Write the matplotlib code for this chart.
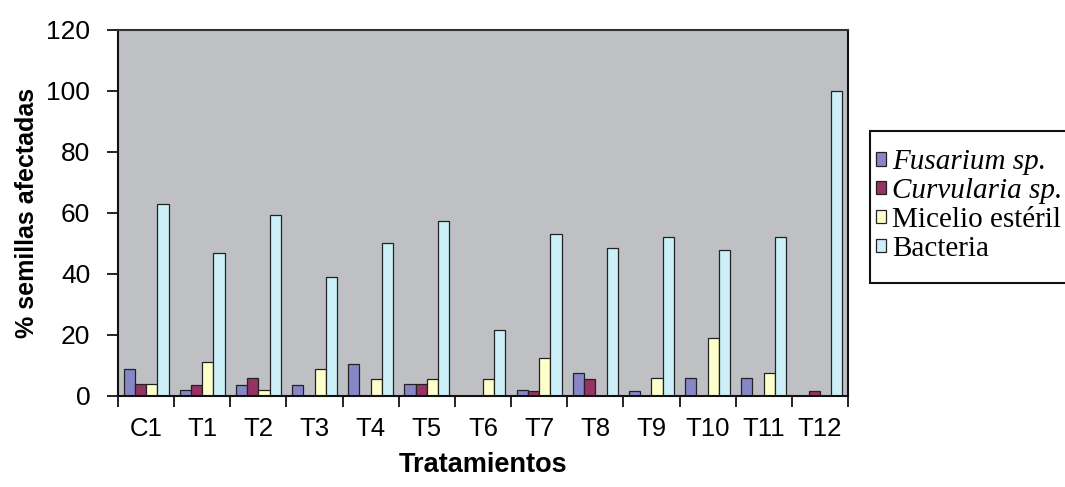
import numpy as np
from matplotlib import pyplot as plt, ticker
from matplotlib.patches import Rectangle

FIG_W = 10.65
FIG_H = 4.87
BAR_W = 0.2

tratamientos = ['C1', 'T1', 'T2', 'T3', 'T4', 'T5', 'T6', 'T7', 'T8', 'T9', 'T10', 'T11', 'T12']
fusarium = [9, 2, 3.5, 3.5, 10.5, 4, 0, 2, 7.5, 1.5, 6, 6, 0]
curvularia = [4, 3.5, 6, 0, 0, 4, 0, 1.5, 5.5, 0, 0, 0, 1.5]
micelio = [4, 11, 2, 9, 5.5, 5.5, 5.5, 12.5, 0, 6, 19, 7.5, 0]
bacteria = [63, 47, 59.5, 39, 50, 57.5, 21.5, 53, 48.5, 52, 48, 52, 100]

series = [
    (fusarium, 'Fusarium sp.', '#8787c8'),
    (curvularia, 'Curvularia sp.', '#963264'),
    (micelio, 'Micelio estéril', '#ffffcc'),
    (bacteria, 'Bacteria', '#ccf0f8'),
]

plt.rcParams['font.family'] = ['Liberation Sans', 'DejaVu Sans']

fig, ax = plt.subplots(figsize=(FIG_W, FIG_H), dpi=100)
plt.subplots_adjust(left=0.1108, right=0.7962, bottom=0.1869, top=0.9384)
ax.set_facecolor('#bfc0c4')

x = np.arange(len(tratamientos))
handles = []
for i, (vals, label, color) in enumerate(series):
    h = ax.bar(x + (i - 1.5) * BAR_W, vals, BAR_W, color=color,
               edgecolor='#222222', linewidth=0.9, label=label)
    handles.append(h)

ax.set_xlim(-0.5, len(tratamientos) - 0.5)
ax.set_ylim(0, 120)
ax.yaxis.set_major_locator(ticker.MultipleLocator(20))
ax.set_xticks(x)
ax.set_xticklabels(tratamientos)
ax.set_xticks(np.arange(-0.5, len(tratamientos)), minor=True)
ax.tick_params(axis='x', which='major', length=0, pad=15, labelsize=18.5)
ax.tick_params(axis='x', which='minor', length=8, width=1.2, direction='out')
ax.tick_params(axis='y', length=8, width=1.2, direction='out', labelsize=19, pad=12)

for side in ['left', 'bottom', 'right']:
    ax.spines[side].set_color('#111111')
    ax.spines[side].set_linewidth(1.5)
ax.spines['top'].set_color('#333333')
ax.spines['top'].set_linewidth(1.5)

ax.set_xlabel('Tratamientos', fontsize=19.5, fontweight='bold', labelpad=8)
ax.set_ylabel('% semillas afectadas', fontsize=18, fontweight='bold', labelpad=5)

# legend box (right part cut off by the figure edge, as in the original)
fig.patches.append(Rectangle((870 / 1065, 1 - 283 / 487), 0.3, 152 / 487,
                             transform=fig.transFigure, facecolor='white',
                             edgecolor='#111111', linewidth=1.5, zorder=0))

legend = fig.legend(handles=handles, loc='center left', bbox_to_anchor=(876 / 1065, 1 - 205.5 / 487),
                    frameon=False, handlelength=0.35, handleheight=0.35,
                    handletextpad=0.2, labelspacing=0.1, borderpad=0, borderaxespad=0,
                    prop={'family': 'Liberation Serif', 'size': 21})
for t in legend.get_texts()[:2]:
    t.set_fontstyle('italic')

plt.savefig('out.png', dpi=100)
